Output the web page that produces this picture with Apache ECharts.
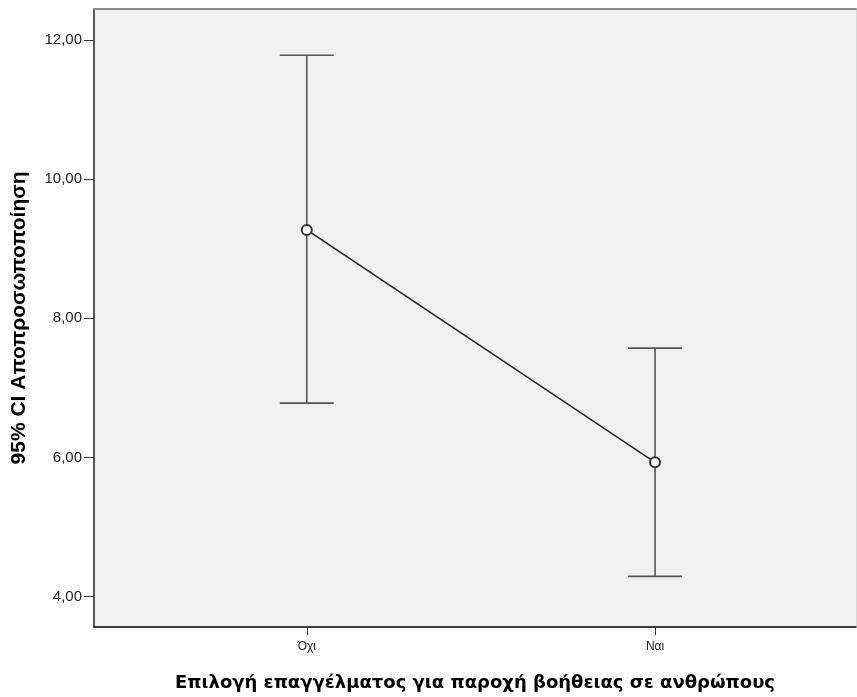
<!DOCTYPE html>
<html>
<head>
<meta charset="utf-8">
<script src="https://cdn.jsdelivr.net/npm/echarts@6/dist/echarts.min.js"></script>
<style>
  html, body { margin: 0; padding: 0; background: #ffffff; }
  #chart { width: 857px; height: 697px; }
</style>
</head>
<body>
<div id="chart"></div>
<script>
// Groups on the x axis and their positions
const categories = ['Όχι', 'Ναι'];
const categoryPos = [1, 2];

// Mean and 95% confidence interval per group
const means = [9.27, 5.93];
const ciLower = [6.78, 4.29];
const ciUpper = [11.78, 7.57];

// Y axis tick values and labels
const yTicks = [4, 6, 8, 10, 12];
const yTickLabels = ['4,00', '6,00', '8,00', '10,00', '12,00'];

const xTitle = 'Επιλογή επαγγέλματος για παροχή βοήθειας σε ανθρώπους';
const yTitle = '95% CI Αποπροσωποποίηση';

const meanData = categoryPos.map((x, i) => [x, means[i]]);
const ciData = categoryPos.map((x, i) => [x, ciLower[i], ciUpper[i]]);

const chart = echarts.init(document.getElementById('chart'), null, { renderer: 'canvas' });

const option = {
  backgroundColor: '#ffffff',
  animation: false,
  grid: {
    left: 94, right: 1, top: 9, bottom: 69,
    show: true,
    backgroundColor: '#f0f0f0',
    borderWidth: 0
  },
  xAxis: [{
    type: 'value',
    min: 0.389,
    max: 2.577,
    position: 'bottom',
    name: xTitle,
    nameLocation: 'middle',
    nameGap: 47,
    nameTextStyle: { fontFamily: 'DejaVu Sans', fontWeight: 'bold', fontSize: 18, color: '#000' },
    axisLine: { show: true, onZero: false, lineStyle: { color: '#000', width: 1.5 } },
    axisTick: { show: true, length: 8, customValues: categoryPos, lineStyle: { color: '#333' } },
    axisLabel: {
      customValues: categoryPos,
      margin: 14,
      fontFamily: 'Liberation Sans', fontSize: 12, color: '#222',
      formatter: v => categories[categoryPos.indexOf(v)] || ''
    },
    splitLine: { show: false }
  }, {
    type: 'value',
    min: 0.389,
    max: 2.577,
    position: 'top',
    axisLine: { show: true, onZero: false, lineStyle: { color: '#8a8a8a', width: 2 } },
    axisTick: { show: false },
    axisLabel: { show: false },
    splitLine: { show: false }
  }],
  yAxis: [{
    type: 'value',
    min: 3.562,
    max: 12.445,
    name: yTitle,
    nameLocation: 'middle',
    nameGap: 64,
    nameRotate: 90,
    nameTextStyle: { fontFamily: 'Liberation Sans', fontWeight: 'bold', fontSize: 21, color: '#000' },
    axisLine: { show: true, onZero: false, lineStyle: { color: '#222', width: 1.5 } },
    axisTick: { show: true, length: 10, customValues: yTicks, lineStyle: { color: '#333' } },
    axisLabel: {
      customValues: yTicks,
      margin: 12,
      fontFamily: 'Liberation Sans', fontSize: 15, color: '#222',
      formatter: v => yTickLabels[yTicks.indexOf(v)] || ''
    },
    splitLine: { show: false }
  }, {
    type: 'value',
    min: 3.562,
    max: 12.445,
    position: 'right',
    axisLine: { show: true, onZero: false, lineStyle: { color: '#d8d8d8', width: 1 } },
    axisTick: { show: false },
    axisLabel: { show: false },
    splitLine: { show: false }
  }],
  series: [{
    // Confidence interval whiskers with caps
    type: 'custom',
    data: ciData,
    z: 2,
    renderItem: function (params, api) {
      const x = api.value(0);
      const lo = api.coord([x, api.value(1)]);
      const hi = api.coord([x, api.value(2)]);
      const half = 27;
      const style = { stroke: '#555', lineWidth: 1.6 };
      return {
        type: 'group',
        children: [
          { type: 'line', shape: { x1: lo[0], y1: lo[1], x2: hi[0], y2: hi[1] }, style: style },
          { type: 'line', shape: { x1: hi[0] - half, y1: hi[1], x2: hi[0] + half, y2: hi[1] }, style: style },
          { type: 'line', shape: { x1: lo[0] - half, y1: lo[1], x2: lo[0] + half, y2: lo[1] }, style: style }
        ]
      };
    }
  }, {
    // Group means joined by a line
    type: 'line',
    data: meanData,
    z: 3,
    symbol: 'emptyCircle',
    symbolSize: 10,
    itemStyle: { color: '#333', borderColor: '#333', borderWidth: 1.2 },
    lineStyle: { color: '#222', width: 1.5 }
  }]
};

chart.setOption(option);
</script>
</body>
</html>
